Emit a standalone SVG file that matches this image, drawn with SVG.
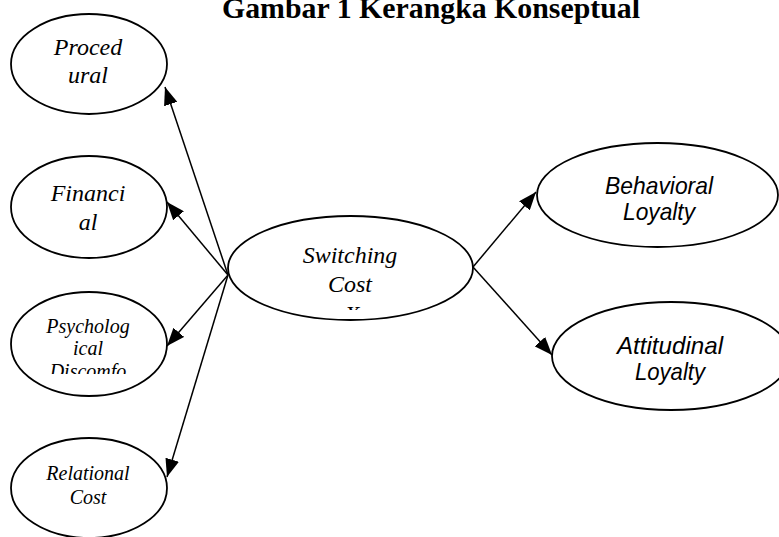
<svg xmlns="http://www.w3.org/2000/svg" width="779" height="537" viewBox="0 0 779 537">
<style>
.node ellipse{fill:#fff;stroke:#000;stroke-width:1.8}
.serif{font-family:"Liberation Serif","Times New Roman",serif;font-style:italic;fill:#000;text-anchor:middle}
.sans{font-family:"Liberation Sans",Arial,sans-serif;font-style:italic;fill:#000;text-anchor:middle;font-size:24px}
.title{font-family:"Liberation Serif","Times New Roman",serif;font-weight:bold;font-size:29px;text-anchor:middle;fill:#000}
#connectors line{stroke:#000;stroke-width:1.5;marker-end:url(#arrow)}
</style>
<defs>
<marker id="arrow" markerUnits="userSpaceOnUse" markerWidth="18" markerHeight="14" viewBox="0 0 18 14" refX="18" refY="7" orient="auto">
<path d="M0,0 L18,7 L0,14 Z" fill="#000"/>
</marker>
<clipPath id="clipPsy"><rect x="0" y="280" width="200" height="94"/></clipPath>
<clipPath id="clipSw"><rect x="220" y="210" width="260" height="100"/></clipPath>
</defs>
<rect width="779" height="537" fill="#fff"/>
<text class="title" x="431" y="18" textLength="418" lengthAdjust="spacingAndGlyphs">Gambar 1 Kerangka Konseptual</text>
<g id="connectors">
<line x1="228" y1="275" x2="165" y2="87"/>
<line x1="228" y1="275" x2="167" y2="202"/>
<line x1="228" y1="275" x2="167" y2="346"/>
<line x1="228" y1="275" x2="167" y2="477"/>
<line x1="473" y1="267" x2="536" y2="192"/>
<line x1="473" y1="267" x2="552" y2="355"/>
</g>
<g id="procedural" class="node">
<ellipse cx="89" cy="64" rx="78" ry="50"/>
<text class="serif" font-size="24" x="88" y="55">Proced</text>
<text class="serif" font-size="24" x="88" y="83">ural</text>
</g>
<g id="financial" class="node">
<ellipse cx="89" cy="207" rx="78" ry="51"/>
<text class="serif" font-size="24" x="88" y="201">Financi</text>
<text class="serif" font-size="24" x="88" y="230">al</text>
</g>
<g id="psychological" class="node">
<ellipse cx="89" cy="344" rx="78" ry="52"/>
<g clip-path="url(#clipPsy)">
<text class="serif" font-size="20" x="88" y="333">Psycholog</text>
<text class="serif" font-size="20" x="88" y="355">ical</text>
<text class="serif" font-size="20" x="88" y="378">Discomfo</text>
</g>
</g>
<g id="relational" class="node">
<ellipse cx="89" cy="488" rx="78" ry="50"/>
<text class="serif" font-size="20" x="88" y="480">Relational</text>
<text class="serif" font-size="20" x="88" y="504">Cost</text>
</g>
<g id="switching" class="node">
<ellipse cx="350.5" cy="268" rx="122.5" ry="52"/>
<g clip-path="url(#clipSw)">
<text class="serif" font-size="24" x="350" y="263">Switching</text>
<text class="serif" font-size="24" x="350" y="292">Cost</text>
<text class="serif" font-size="24" x="352" y="322">X</text>
</g>
</g>
<g id="behavioral" class="node">
<ellipse cx="657.5" cy="195" rx="120.5" ry="52"/>
<text class="sans" x="659" y="194" textLength="108" lengthAdjust="spacingAndGlyphs">Behavioral</text>
<text class="sans" x="659" y="220" textLength="72" lengthAdjust="spacingAndGlyphs">Loyalty</text>
</g>
<g id="attitudinal" class="node">
<ellipse cx="671" cy="356" rx="119" ry="54"/>
<text class="sans" x="670" y="354" textLength="106" lengthAdjust="spacingAndGlyphs">Attitudinal</text>
<text class="sans" x="670" y="380" textLength="70" lengthAdjust="spacingAndGlyphs">Loyalty</text>
</g>
</svg>
